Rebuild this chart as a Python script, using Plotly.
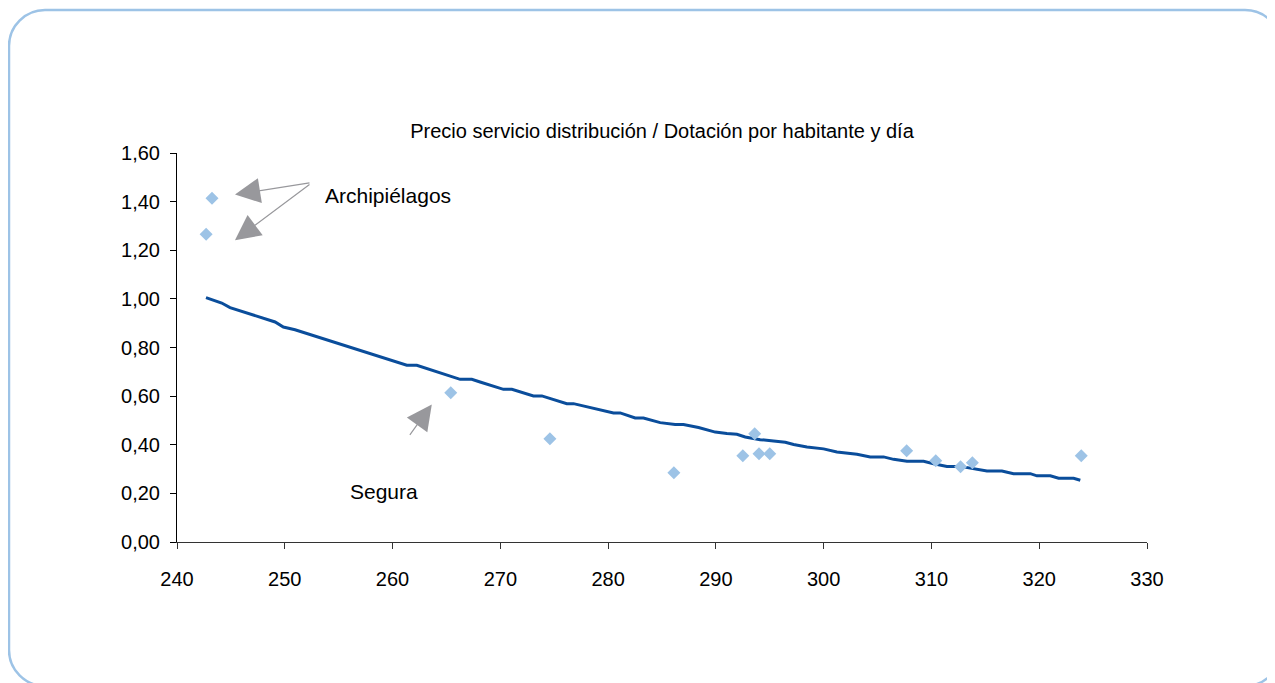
import plotly.graph_objects as go

# --- Data ---
dotacion = [242.7, 243.25, 265.4, 274.6, 286.1, 292.5, 293.6, 294.0, 295.0,
            307.7, 310.4, 312.7, 313.8, 323.9]
precio = [1.266, 1.414, 0.614, 0.425, 0.285, 0.355, 0.445, 0.363, 0.363,
          0.375, 0.334, 0.309, 0.326, 0.355]

trend_x = [242.69, 244.15, 244.92, 249.10, 249.87, 250.95, 261.32, 262.25, 266.27,
           267.35, 268.12, 270.29, 271.07, 273.07, 273.85, 276.17, 276.79, 280.50,
           281.12, 282.51, 283.28, 284.83, 286.22, 286.99, 288.39, 289.94, 291.02,
           291.95, 292.72, 294.11, 295.35, 296.44, 297.21, 298.45, 299.99, 301.23,
           303.09, 304.32, 305.56, 306.49, 307.73, 309.27, 310.20, 311.44, 312.68,
           314.23, 315.15, 316.54, 317.62, 319.17, 319.79, 321.03, 321.80, 323.19,
           323.81]
trend_y = [1.005, 0.983, 0.964, 0.905, 0.884, 0.873, 0.727, 0.727, 0.669,
           0.669, 0.658, 0.628, 0.628, 0.601, 0.601, 0.569, 0.569, 0.531,
           0.531, 0.510, 0.510, 0.491, 0.483, 0.483, 0.471, 0.452, 0.446,
           0.443, 0.432, 0.421, 0.415, 0.410, 0.401, 0.391, 0.383, 0.370,
           0.361, 0.350, 0.350, 0.340, 0.332, 0.332, 0.322, 0.311, 0.311,
           0.299, 0.292, 0.292, 0.281, 0.281, 0.272, 0.272, 0.262, 0.262,
           0.254]

x_ticks = [240, 250, 260, 270, 280, 290, 300, 310, 320, 330]
y_ticks = [0, 0.2, 0.4, 0.6, 0.8, 1.0, 1.2, 1.4, 1.6]

# page has an 8px body margin, so the figure is a bit smaller and shifted
OFF = 8
W, H = 1275 - OFF, 683 - OFF
L, R, T, B = 169, 128, 145, 141
FONT = "Liberation Sans, Arial, sans-serif"


def px(x, y):
    # reference pixel -> paper coords
    x, y = x - OFF, y - OFF
    return (x - L) / (W - L - R), (H - B - y) / (H - T - B)


def rounded_rect(x0, y0, x1, y1, r):
    k = 0.5523 * r
    pts = [
        ("M", [(x0 + r, y0)]),
        ("L", [(x1 - r, y0)]),
        ("C", [(x1 - r + k, y0), (x1, y0 + r - k), (x1, y0 + r)]),
        ("L", [(x1, y1 - r)]),
        ("C", [(x1, y1 - r + k), (x1 - r + k, y1), (x1 - r, y1)]),
        ("L", [(x0 + r, y1)]),
        ("C", [(x0 + r - k, y1), (x0, y1 - r + k), (x0, y1 - r)]),
        ("L", [(x0, y0 + r)]),
        ("C", [(x0, y0 + r - k), (x0 + r - k, y0), (x0 + r, y0)]),
    ]
    out = ""
    for cmd, ps in pts:
        out += cmd + " ".join("%.5f,%.5f" % px(a, b) for a, b in ps) + " "
    return out + "Z"


fig = go.Figure()
fig.add_trace(go.Scatter(x=trend_x, y=trend_y, mode="lines",
                         line=dict(color="#0a4d9b", width=3), showlegend=False))
fig.add_trace(go.Scatter(x=dotacion, y=precio, mode="markers",
                         marker=dict(symbol="diamond", size=10, color="#9dc3e6"),
                         showlegend=False))

arrow = dict(showarrow=True, arrowhead=2, arrowsize=4.2, arrowwidth=1.2,
             arrowcolor="#98989c", text="", xref="x", yref="y", standoff=0)
fig.add_annotation(x=245.38, y=1.429, ax=76, ay=-12, **arrow)
fig.add_annotation(x=245.38, y=1.241, ax=76, ay=-57, **arrow)
fig.add_annotation(x=263.64, y=0.566, ax=-23, ay=32, **arrow)

fig.add_annotation(x=253.55, y=1.426, text="Archipiélagos", showarrow=False,
                   xanchor="left", yanchor="middle", font=dict(size=21, color="#000"))
fig.add_annotation(x=255.87, y=0.209, text="Segura", showarrow=False,
                   xanchor="left", yanchor="middle", font=dict(size=21, color="#000"))

fig.add_shape(type="path", xref="paper", yref="paper",
              path=rounded_rect(9, 10, 1281, 686, 36),
              line=dict(color="#9dc3e6", width=2.5), layer="below")

fig.update_layout(
    width=W, height=H,
    margin=dict(l=L, r=R, t=T, b=B),
    paper_bgcolor="white", plot_bgcolor="white",
    separators=",.",
    font=dict(family=FONT, size=20, color="#000"),
    title=dict(text="Precio servicio distribución / Dotación por habitante y día",
               x=0.5, xref="paper", xanchor="center",
               y=1 - (131 - OFF) / H, yanchor="middle", font=dict(size=20)),
    xaxis=dict(range=[240, 330], tickvals=x_ticks, showgrid=False, zeroline=False,
               showline=True, linecolor="#333", linewidth=1, ticks="outside",
               ticklen=6, tickcolor="#333", ticklabelstandoff=13),
    yaxis=dict(range=[0, 1.6], tickvals=y_ticks, tickformat=".2f", showgrid=False,
               zeroline=False, showline=True, linecolor="#000", linewidth=1,
               ticks="outside", ticklen=6, tickcolor="#000", ticklabelstandoff=6),
)

fig.write_html("out.html")
